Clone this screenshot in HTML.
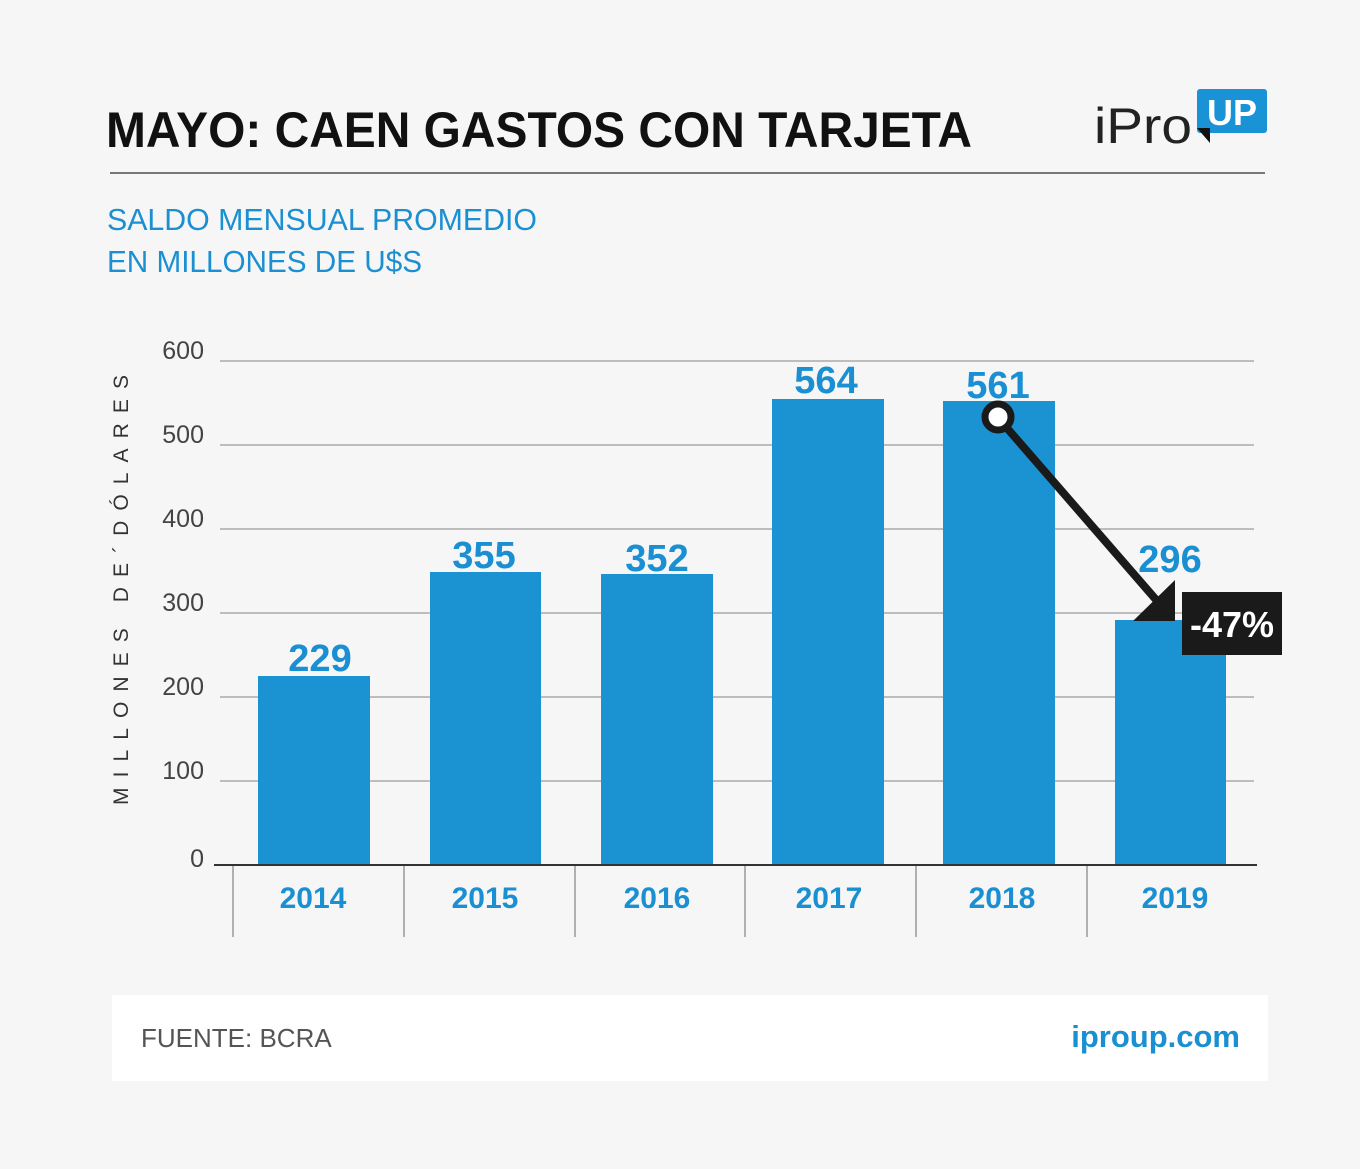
<!DOCTYPE html>
<html><head><meta charset="utf-8"><style>
body{margin:0;background:#f6f6f6;}
svg{display:block;font-family:"Liberation Sans","DejaVu Sans",sans-serif;}
</style></head><body>
<svg width="1360" height="1169" viewBox="0 0 1360 1169">
<rect width="1360" height="1169" fill="#f6f6f6"/>
<text x="106" y="147" font-size="50" font-weight="bold" fill="#111" textLength="866" lengthAdjust="spacingAndGlyphs">MAYO: CAEN GASTOS CON TARJETA</text>
<text x="1094" y="143" font-size="50" fill="#222" textLength="98" lengthAdjust="spacingAndGlyphs">iPro</text>
<rect x="1197" y="89" width="70" height="44" rx="3" fill="#1a93d6"/>
<polygon points="1197,128 1210,128 1210,143" fill="#111"/>
<text x="1232" y="125" font-size="36" font-weight="bold" fill="#fff" text-anchor="middle">UP</text>
<line x1="110" y1="173" x2="1265" y2="173" stroke="#777" stroke-width="2"/>
<text x="107" y="230" font-size="31" fill="#1a8fd1" textLength="430" lengthAdjust="spacingAndGlyphs">SALDO MENSUAL PROMEDIO</text>
<text x="107" y="272" font-size="31" fill="#1a8fd1" textLength="315" lengthAdjust="spacingAndGlyphs">EN MILLONES DE U$S</text>
<text transform="translate(128,590) rotate(-90)" font-size="21" fill="#333" text-anchor="middle" textLength="430" lengthAdjust="spacing">MILLONES DE´DÓLARES</text>
<g stroke="#aaa" stroke-width="1.5">
<line x1="220" y1="361" x2="1254" y2="361"/><line x1="220" y1="445" x2="1254" y2="445"/>
<line x1="220" y1="529" x2="1254" y2="529"/><line x1="220" y1="613" x2="1254" y2="613"/>
<line x1="220" y1="697" x2="1254" y2="697"/><line x1="220" y1="781" x2="1254" y2="781"/>
</g>
<g font-size="25" fill="#444" text-anchor="end">
<text x="204" y="359">600</text><text x="204" y="443">500</text><text x="204" y="527">400</text>
<text x="204" y="611">300</text><text x="204" y="695">200</text><text x="204" y="779">100</text><text x="204" y="867">0</text>
</g>
<g fill="#1b93d3">
<rect x="258" y="676" width="112" height="189"/><rect x="430" y="572" width="111" height="293"/>
<rect x="601" y="574" width="112" height="291"/><rect x="772" y="399" width="112" height="466"/>
<rect x="943" y="401" width="112" height="464"/><rect x="1115" y="620" width="111" height="245"/>
</g>
<line x1="214" y1="865" x2="1257" y2="865" stroke="#333" stroke-width="2"/>
<g stroke="#999" stroke-width="1.5">
<line x1="233" y1="866" x2="233" y2="937"/><line x1="404" y1="866" x2="404" y2="937"/>
<line x1="575" y1="866" x2="575" y2="937"/><line x1="745" y1="866" x2="745" y2="937"/>
<line x1="916" y1="866" x2="916" y2="937"/><line x1="1087" y1="866" x2="1087" y2="937"/>
</g>
<g font-size="30" font-weight="bold" fill="#1a8fd1" text-anchor="middle">
<text x="313" y="908">2014</text><text x="485" y="908">2015</text><text x="657" y="908">2016</text>
<text x="829" y="908">2017</text><text x="1002" y="908">2018</text><text x="1175" y="908">2019</text>
</g>
<g font-size="38" font-weight="bold" fill="#1a8fd1" text-anchor="middle">
<text x="320" y="671">229</text><text x="484" y="568">355</text><text x="657" y="571">352</text>
<text x="826" y="393">564</text><text x="998" y="398">561</text><text x="1170" y="572">296</text>
</g>
<line x1="1000" y1="420" x2="1158" y2="602" stroke="#1a1a1a" stroke-width="8"/>
<polygon points="1133,621 1175,580 1175,621" fill="#1a1a1a"/>
<circle cx="998" cy="417" r="13" fill="#fff" stroke="#1a1a1a" stroke-width="7"/>
<rect x="1182" y="592" width="100" height="63" fill="#1a1a1a"/>
<text x="1232" y="637" font-size="36" font-weight="bold" fill="#fff" text-anchor="middle">-47%</text>
<rect x="112" y="995" width="1156" height="86" fill="#fff"/>
<text x="141" y="1047" font-size="26" fill="#555">FUENTE: BCRA</text>
<text x="1240" y="1047" font-size="31" font-weight="bold" fill="#1a8fd1" text-anchor="end">iproup.com</text>
</svg>
</body></html>
